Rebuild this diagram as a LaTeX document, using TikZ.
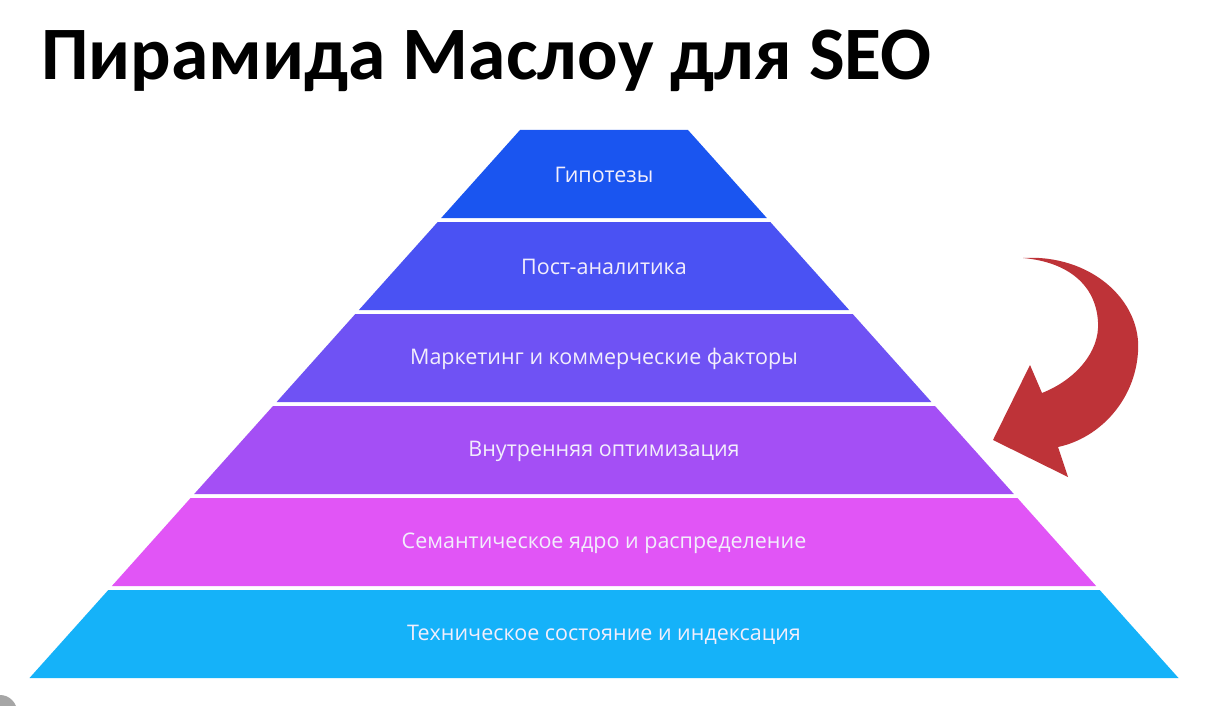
\documentclass[tikz,border=0pt]{standalone}
\usepackage{fontspec}
\setmainfont{Carlito}
\newfontfamily\lblfont{Open Sans}
\definecolor{cHyp}{HTML}{1A55F0}
\definecolor{cPost}{HTML}{4A52F3}
\definecolor{cMark}{HTML}{6F52F4}
\definecolor{cOpt}{HTML}{A44FF5}
\definecolor{cSem}{HTML}{E155F6}
\definecolor{cTech}{HTML}{15B2F9}
\definecolor{cArrow}{HTML}{BE3338}
\definecolor{cText}{HTML}{F2EEFC}
\tikzset{
  lbl/.style={text=cText, font=\lblfont\fontsize{21.5}{24}\selectfont, inner sep=0pt},
  ttl/.style={anchor=base west, font=\fontsize{75.5}{80}\selectfont\bfseries, inner sep=0pt}
}
\begin{document}
\begin{tikzpicture}[x=1pt,y=-1pt]
\clip (0,0) rectangle (1215,706);
\fill [white] (0,0) rectangle (1215,706);
\node [ttl] (title) at (41,80) {Пирамида Маслоу для SEO};
% layers, top to bottom
\fill [cHyp] (520,130) -- (688,130) -- (766.8,218) -- (441.2,218) -- cycle;
\fill [cPost] (437.7,222) -- (770.3,222) -- (849.1,310) -- (358.9,310) -- cycle;
\fill [cMark] (355.3,314) -- (852.7,314) -- (931.4,402) -- (276.6,402) -- cycle;
\fill [cOpt] (273,406) -- (935,406) -- (1013.8,494) -- (194.2,494) -- cycle;
\fill [cSem] (190.6,498) -- (1017.4,498) -- (1096.1,586) -- (111.9,586) -- cycle;
\fill [cTech] (108.3,590) -- (1099.7,590) -- (1178.5,678) -- (29.5,678) -- cycle;
\node [lbl] (hyp) at (604,175) {Гипотезы};
\node [lbl] (post) at (604,267) {Пост-аналитика};
\node [lbl] (mark) at (604,359) {Маркетинг и коммерческие факторы};
\node [lbl] (opt) at (604,451) {Внутренняя оптимизация};
\node [lbl] (sem) at (604,543) {Семантическое ядро и распределение};
\node [lbl] (tech) at (604,635) {Техническое состояние и индексация};
% curved arrow
\fill [cArrow] (1023,258) .. controls (1090,254) and (1142,300) .. (1138,352)
  .. controls (1135,400) and (1100,438) .. (1058,447) -- (1068,477) -- (993,440)
  -- (1030,365) -- (1042,393) .. controls (1075,380) and (1100,352) .. (1098,322)
  .. controls (1096,285) and (1068,262) .. cycle;
% corner mark
\fill [gray!70] (0,712) circle (17);
\end{tikzpicture}
\end{document}
